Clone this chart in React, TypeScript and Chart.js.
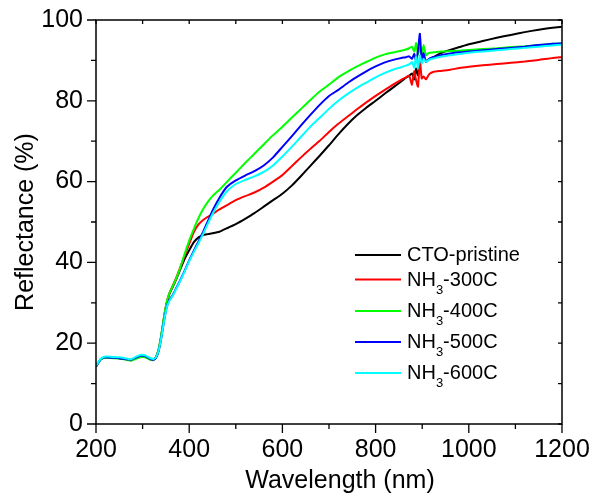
import React, { useEffect, useRef } from "react";
import { Chart, registerables } from "chart.js";

Chart.register(...registerables);

const WAVELENGTH = [200, 210, 220, 235, 250, 265, 275, 285, 295, 305, 315, 322, 328, 334, 340, 346, 352, 358, 365, 372, 380, 390, 400, 410, 420, 430, 440, 450, 465, 480, 500, 520, 540, 560, 580, 600, 620, 640, 660, 680, 700, 720, 740, 760, 780, 800, 820, 840, 855, 865, 872, 878, 883, 887, 891, 895, 899, 903, 908, 915, 925, 940, 960, 980, 1000, 1030, 1060, 1090, 1120, 1150, 1180, 1200];

const CTO_PRISTINE = [14.3, 16.0, 16.5, 16.4, 16.3, 16.0, 15.8, 16.3, 16.8, 16.7, 16.1, 15.9, 16.4, 18.2, 21.8, 26.3, 30.0, 32.3, 34.0, 35.8, 38.0, 40.8, 43.0, 45.0, 46.2, 46.8, 47.0, 47.2, 47.6, 48.4, 49.5, 50.8, 52.2, 53.8, 55.4, 57.0, 59.0, 61.4, 63.9, 66.4, 69.0, 71.7, 74.2, 76.4, 78.3, 80.0, 81.8, 83.5, 84.8, 85.7, 86.2, 86.8, 85.3, 88.0, 86.3, 88.8, 90.0, 91.0, 89.8, 90.3, 90.9, 91.8, 92.6, 93.3, 94.0, 94.8, 95.6, 96.3, 97.0, 97.6, 98.1, 98.3];

const NH3_300C = [14.3, 16.0, 16.5, 16.4, 16.3, 16.0, 15.8, 16.3, 16.8, 16.7, 16.1, 15.9, 16.4, 18.2, 21.8, 26.4, 30.2, 32.5, 34.3, 36.1, 38.5, 41.6, 44.6, 47.5, 49.4, 50.5, 51.3, 52.0, 53.1, 54.1, 55.4, 56.4, 57.3, 58.5, 60.0, 61.6, 63.8, 66.0, 68.1, 70.1, 72.3, 74.3, 76.1, 77.9, 79.6, 81.2, 82.7, 84.2, 85.2, 85.8, 86.3, 84.0, 87.3, 85.0, 83.5, 90.0, 85.5, 86.0, 85.3, 86.6, 87.2, 87.4, 87.7, 88.1, 88.4, 88.8, 89.1, 89.4, 89.7, 90.1, 90.6, 90.8];

const NH3_400C = [14.3, 15.9, 16.4, 16.3, 16.2, 15.9, 15.7, 16.1, 16.5, 16.5, 16.0, 15.8, 16.3, 18.3, 22.0, 26.5, 30.3, 32.5, 34.2, 36.0, 38.4, 42.0, 45.4, 48.3, 51.0, 53.2, 55.0, 56.4, 58.0, 59.8, 62.2, 64.6, 66.9, 69.2, 71.5, 73.6, 75.8, 78.0, 80.2, 82.3, 84.0, 85.8, 87.2, 88.5, 89.6, 90.7, 91.5, 92.0, 92.4, 92.7, 93.0, 93.4, 92.2, 94.3, 91.5, 93.2, 91.2, 93.8, 91.3, 91.9, 92.0, 92.2, 92.3, 92.4, 92.6, 92.8, 93.0, 93.3, 93.5, 93.8, 94.1, 94.2];

const NH3_500C = [14.2, 16.0, 16.5, 16.4, 16.3, 16.0, 15.9, 16.4, 16.9, 16.8, 16.2, 15.9, 16.3, 17.9, 21.2, 25.5, 29.0, 30.8, 32.0, 33.6, 35.4, 37.9, 40.5, 42.9, 45.2, 47.6, 50.2, 52.8, 56.0, 58.6, 60.3, 61.5, 62.6, 64.0, 66.0, 68.6, 71.2, 73.9, 76.5, 79.0, 81.2, 82.7, 84.4, 85.9, 87.3, 88.5, 89.5, 90.2, 90.6, 90.8, 91.0, 90.4, 91.6, 89.8, 92.5, 96.6, 90.0, 91.8, 89.6, 90.4, 90.8, 91.3, 91.7, 92.0, 92.2, 92.5, 92.8, 93.1, 93.4, 93.8, 94.1, 94.2];

const NH3_600C = [14.4, 16.1, 16.7, 16.6, 16.5, 16.2, 16.0, 16.6, 17.1, 17.0, 16.4, 16.1, 16.4, 18.0, 21.3, 25.5, 28.9, 30.6, 31.8, 33.4, 35.2, 37.7, 40.3, 42.6, 44.8, 47.1, 49.6, 52.0, 55.0, 57.5, 59.4, 60.4, 61.3, 62.4, 64.0, 66.2, 68.6, 71.1, 73.6, 75.8, 78.0, 80.0, 81.7, 83.2, 84.5, 85.8, 86.9, 87.8, 88.3, 88.7, 89.0, 89.6, 88.2, 91.0, 88.0, 91.2, 89.2, 90.4, 89.6, 90.2, 90.5, 90.9, 91.3, 91.6, 91.9, 92.2, 92.5, 92.8, 93.1, 93.4, 93.7, 93.9];

const SERIES_LABELS = ["CTO-pristine", "NH₃-300C", "NH₃-400C", "NH₃-500C", "NH₃-600C"];
const SERIES_VALUES = [CTO_PRISTINE, NH3_300C, NH3_400C, NH3_500C, NH3_600C];
const SERIES_COLORS = ["#000000", "#ff0000", "#00ff00", "#0000ff", "#00ffff"];

const X_TITLE = "Wavelength (nm)";
const Y_TITLE = "Reflectance (%)";
const X_MIN = 200;
const X_MAX = 1200;
const Y_MIN = 0;
const Y_MAX = 100;

const FONT = '"Liberation Sans", Arial, sans-serif';

const framePlugin = {
  id: "frameTicks",
  afterDraw(chart: any) {
    const { ctx, chartArea } = chart;
    const xs = chart.scales.x;
    const ys = chart.scales.y;
    const { left, right, top, bottom } = chartArea;
    ctx.save();
    ctx.strokeStyle = "#000";
    ctx.lineWidth = 1.5;
    ctx.strokeRect(left, top, right - left, bottom - top);
    ctx.lineWidth = 1.3;
    ctx.beginPath();
    for (let v = X_MIN; v <= X_MAX; v += 100) {
      const px = xs.getPixelForValue(v);
      const major = v % 200 === 0;
      ctx.moveTo(px, bottom);
      ctx.lineTo(px, bottom + (major ? 9 : 5));
      ctx.moveTo(px, top);
      ctx.lineTo(px, top + 4);
    }
    for (let v = Y_MIN; v <= Y_MAX; v += 10) {
      const py = ys.getPixelForValue(v);
      const major = v % 20 === 0;
      ctx.moveTo(left, py);
      ctx.lineTo(left - (major ? 9 : 5), py);
      ctx.moveTo(right, py);
      ctx.lineTo(right - 4, py);
    }
    ctx.stroke();

    // x axis title
    ctx.fillStyle = "#000";
    ctx.font = `25px ${FONT}`;
    ctx.textAlign = "center";
    ctx.textBaseline = "alphabetic";
    ctx.fillText(X_TITLE, (left + right) / 2 + 11, 488);

    // legend
    const lx0 = 355;
    const lx1 = 401;
    const tx = 407;
    const rows = [255, 279.5, 311, 342, 373];
    chart.data.datasets.forEach((ds: any, i: number) => {
      const y = rows[i];
      ctx.strokeStyle = ds.borderColor;
      ctx.lineWidth = 2;
      ctx.beginPath();
      ctx.moveTo(lx0, y);
      ctx.lineTo(lx1, y);
      ctx.stroke();
      ctx.fillStyle = "#000";
      ctx.textAlign = "left";
      ctx.textBaseline = "alphabetic";
      const label: string = ds.label;
      const parts = label.split("₃");
      const base = y + 6;
      ctx.font = `20px ${FONT}`;
      let x = tx;
      ctx.fillText(parts[0], x, base);
      x += ctx.measureText(parts[0]).width;
      if (parts.length > 1) {
        ctx.font = `13px ${FONT}`;
        ctx.fillText("3", x, base + 8);
        x += ctx.measureText("3").width;
        ctx.font = `20px ${FONT}`;
        ctx.fillText(parts[1], x, base);
      }
    });
    ctx.restore();
  },
};

export default function App() {
  const canvasRef = useRef<HTMLCanvasElement | null>(null);

  useEffect(() => {
    const canvas = canvasRef.current;
    if (!canvas) return;
    const datasets = SERIES_LABELS.map((label, i) => ({
      label,
      data: WAVELENGTH.map((w, j) => ({ x: w, y: SERIES_VALUES[i][j] })),
      borderColor: SERIES_COLORS[i],
      backgroundColor: SERIES_COLORS[i],
      borderWidth: 2,
      pointRadius: 0,
      tension: 0.15,
      fill: false,
      order: SERIES_LABELS.length - i,
    }));
    const chart = new Chart(canvas, {
      type: "line",
      data: { datasets },
      options: {
        animation: false,
        responsive: false,
        maintainAspectRatio: false,
        layout: { padding: { left: 0, right: 30, top: 20, bottom: 0 } },
        plugins: {
          legend: { display: false },
          tooltip: { enabled: false },
        },
        scales: {
          x: {
            type: "linear",
            min: X_MIN,
            max: X_MAX,
            grid: { display: false, drawTicks: true, tickLength: 11 },
            border: { display: false },
            ticks: {
              stepSize: 200,
              padding: 0,
              color: "#000",
              font: { family: FONT, size: 25 },
              maxRotation: 0,
              callback: (v: any) => String(v),
            },
            afterFit: (s: any) => {
              s.height = 71;
            },
          },
          y: {
            type: "linear",
            min: Y_MIN,
            max: Y_MAX,
            grid: { display: false, drawTicks: true, tickLength: 13 },
            border: { display: false },
            ticks: {
              stepSize: 20,
              padding: 0,
              color: "#000",
              font: { family: FONT, size: 25 },
              callback: (v: any) => String(v),
            },
            title: {
              display: true,
              text: Y_TITLE,
              color: "#000",
              font: { family: FONT, size: 25 },
              padding: { top: 11, bottom: 0 },
            },
            afterFit: (s: any) => {
              s.width = 96;
            },
          },
        },
      },
      plugins: [framePlugin],
    });
    return () => chart.destroy();
  }, []);

  return (
    <div style={{ position: "absolute", left: 0, top: 0, width: 592, height: 495, background: "#fff" }}>
      <canvas ref={canvasRef} width={592} height={495} />
    </div>
  );
}
